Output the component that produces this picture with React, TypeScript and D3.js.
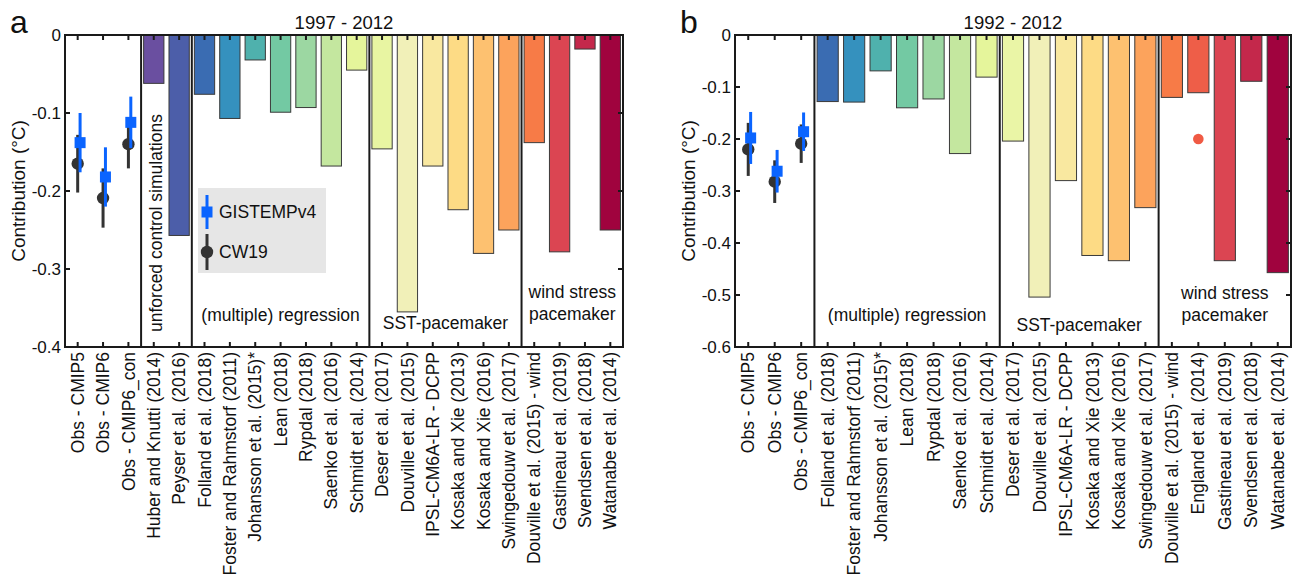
import * as d3 from 'd3';

// shared first three columns
const obsLabels = ['Obs - CMIP5', 'Obs - CMIP6', 'Obs - CMIP6_con'];

// panel a: 1997 - 2012
const aStudies = [
  'Huber and Knutti (2014)', 'Peyser et al. (2016)',
  'Folland et al. (2018)', 'Foster and Rahmstorf (2011)', 'Johansson et al. (2015)*', 'Lean (2018)',
  'Rypdal (2018)', 'Saenko et al. (2016)', 'Schmidt et al. (2014)',
  'Deser et al. (2017)', 'Douville et al. (2015)', 'IPSL-CM6A-LR - DCPP', 'Kosaka and Xie (2013)',
  'Kosaka and Xie (2016)', 'Swingedouw et al. (2017)',
  'Douville et al. (2015) - wind', 'Gastineau et al. (2019)', 'Svendsen et al. (2018)', 'Watanabe et al. (2014)',
];
const aValues = [
  -0.062, -0.257,
  -0.076, -0.107, -0.032, -0.099, -0.093, -0.168, -0.045,
  -0.146, -0.355, -0.168, -0.224, -0.280, -0.250,
  -0.138, -0.278, -0.018, -0.250,
];
const aColors = [
  '#6a4fa0', '#4c5ea9',
  '#3a6cb2', '#3591be', '#4fb1ad', '#73c9a3', '#9cd7a2', '#c4e79f', '#e5f59b',
  '#e8f5a2', '#f1f0b8', '#f9e8a0', '#fddb85', '#fdc170', '#fca35c',
  '#f77b47', '#db4552', '#c4284b', '#a0033e',
];
const aGistemp = [-0.138, -0.182, -0.112];
const aGistempErr = [0.038, 0.038, 0.033];
const aCw19 = [-0.165, -0.209, -0.140];
const aCw19Err = [0.037, 0.038, 0.031];
const aGroupSizes = [3, 2, 7, 6, 4];
const aGroupLabels = [[], ['unforced control simulations'], ['(multiple) regression'], ['SST-pacemaker'], ['wind stress', 'pacemaker']];
const aTicks = [0, -0.1, -0.2, -0.3, -0.4];

// panel b: 1992 - 2012
const bStudies = [
  'Folland et al. (2018)', 'Foster and Rahmstorf (2011)', 'Johansson et al. (2015)*', 'Lean (2018)',
  'Rypdal (2018)', 'Saenko et al. (2016)', 'Schmidt et al. (2014)',
  'Deser et al. (2017)', 'Douville et al. (2015)', 'IPSL-CM6A-LR - DCPP', 'Kosaka and Xie (2013)',
  'Kosaka and Xie (2016)', 'Swingedouw et al. (2017)',
  'Douville et al. (2015) - wind', 'England et al. (2014)', 'Gastineau et al. (2019)',
  'Svendsen et al. (2018)', 'Watanabe et al. (2014)',
];
const bValues = [
  -0.128, -0.129, -0.069, -0.140, -0.123, -0.228, -0.081,
  -0.204, -0.504, -0.280, -0.424, -0.434, -0.332,
  -0.120, -0.111, -0.434, -0.089, -0.457,
];
const bColors = [
  '#3a6cb2', '#3591be', '#4fb1ad', '#73c9a3', '#9cd7a2', '#c4e79f', '#e5f59b',
  '#eaf5a6', '#f1f0b8', '#f9e8a0', '#fddb85', '#fdc170', '#fca35c',
  '#f77b47', '#ee5e48', '#db4552', '#c4284b', '#a0033e',
];
const bGistemp = [-0.198, -0.262, -0.186];
const bGistempErr = [0.05, 0.041, 0.037];
const bCw19 = [-0.22, -0.282, -0.209];
const bCw19Err = [0.051, 0.041, 0.037];
// England et al. (2014) extra estimate
const bExtraLabel = 'England et al. (2014)';
const bExtraValue = -0.2;
const bGroupSizes = [3, 7, 6, 5];
const bGroupLabels = [[], ['(multiple) regression'], ['SST-pacemaker'], ['wind stress', 'pacemaker']];
const bTicks = [0, -0.1, -0.2, -0.3, -0.4, -0.5, -0.6];

const FONT = '"Liberation Sans", Arial, Helvetica, sans-serif';
const BLUE = '#0a64ff';
const DARK = '#333333';
const AXIS = '#1a1a1a';
const TOP = 35;
const BOTTOM = 347;

type GroupLayout = { y: number; rotate?: boolean; dx?: number };

type PanelProps = {
  letter: string;
  title: string;
  left: number;
  right: number;
  studies: string[];
  values: number[];
  colors: string[];
  ticks: number[];
  gistemp: number[];
  gistempErr: number[];
  cw19: number[];
  cw19Err: number[];
  groupSizes: number[];
  groupLabels: string[][];
  groupLayout: GroupLayout[];
  extra?: { label: string; value: number };
  legend?: boolean;
};

function Panel(p: PanelProps) {
  const labels = [...obsLabels, ...p.studies];
  const x = d3
    .scaleBand<number>()
    .domain(d3.range(labels.length))
    .range([p.left, p.right])
    .paddingInner(0.2)
    .paddingOuter(0.1);
  const y = d3
    .scaleLinear()
    .domain([0, p.ticks[p.ticks.length - 1]])
    .range([TOP, BOTTOM]);
  const bw = x.bandwidth();
  const cx = (i: number) => (x(i) as number) + bw / 2;
  const gap = (x.step() - bw) / 2;
  const cum = d3.cumsum(p.groupSizes);
  const bounds = [0, ...Array.from(cum)].map((c) => (c >= labels.length ? p.right : (x(c) as number) - gap));
  bounds[0] = p.left;

  const errMarker = (xc: number, v: number, e: number, kind: 'sq' | 'ci') => (
    <g>
      <line x1={xc} x2={xc} y1={y(v - e)} y2={y(v + e)} stroke={kind === 'sq' ? BLUE : DARK} strokeWidth={3} />
      {kind === 'sq' ? (
        <rect x={xc - 5.5} y={y(v) - 5.5} width={11} height={11} fill={BLUE} />
      ) : (
        <circle cx={xc} cy={y(v)} r={6.2} fill={DARK} />
      )}
    </g>
  );

  return (
    <g fontFamily={FONT}>
      <text x={p.left - 55} y={33} fontSize={32} fill="#111">{p.letter}</text>
      <text x={(p.left + p.right) / 2} y={29} fontSize={18.5} textAnchor="middle" fill="#111">{p.title}</text>

      {p.values.map((v, k) => {
        const i = k + obsLabels.length;
        return (
          <rect
            key={i}
            x={x(i)}
            y={y(0)}
            width={bw}
            height={y(v) - y(0)}
            fill={p.colors[k]}
            stroke="#3a3a3a"
            strokeWidth={1}
          />
        );
      })}

      {/* observational estimates, CW19 beneath GISTEMPv4 */}
      {p.cw19.map((v, i) => <g key={'c' + i}>{errMarker(cx(i), v, p.cw19Err[i], 'ci')}</g>)}
      {p.gistemp.map((v, i) => <g key={'g' + i}>{errMarker(cx(i) + 2.4, v, p.gistempErr[i], 'sq')}</g>)}

      {p.extra && (
        <circle cx={cx(labels.indexOf(p.extra.label))} cy={y(p.extra.value)} r={5.3} fill="#f05a44" />
      )}

      {/* frame */}
      <rect x={p.left} y={TOP} width={p.right - p.left} height={BOTTOM - TOP} fill="none" stroke={AXIS} strokeWidth={2} />
      {bounds.slice(1, -1).map((b, i) => (
        <line key={'s' + i} x1={b} x2={b} y1={TOP} y2={BOTTOM} stroke={AXIS} strokeWidth={2} />
      ))}

      {/* y ticks both sides */}
      {p.ticks.map((t) => (
        <g key={'t' + t}>
          <line x1={p.left} x2={p.left + 5} y1={y(t)} y2={y(t)} stroke={AXIS} strokeWidth={2} />
          <line x1={p.right - 5} x2={p.right} y1={y(t)} y2={y(t)} stroke={AXIS} strokeWidth={2} />
          <text x={p.left - 4} y={y(t)} dy="0.35em" fontSize={17} textAnchor="end" fill="#111">
            {t === 0 ? '0' : t.toFixed(1)}
          </text>
        </g>
      ))}
      <text
        transform={`translate(${p.left - 40},${(TOP + BOTTOM) / 2}) rotate(-90)`}
        fontSize={19}
        textAnchor="middle"
        fill="#111"
      >
        Contribution (°C)
      </text>

      {/* x ticks top and bottom, rotated labels */}
      {labels.map((l, i) => (
        <g key={'x' + i}>
          <line x1={cx(i)} x2={cx(i)} y1={BOTTOM} y2={BOTTOM - 5} stroke={AXIS} strokeWidth={2} />
          <line x1={cx(i)} x2={cx(i)} y1={TOP} y2={TOP + 5} stroke={AXIS} strokeWidth={2} />
          <text
            transform={`translate(${cx(i)},${BOTTOM + 5}) rotate(-90)`}
            dy="0.35em"
            fontSize={17.5}
            textAnchor="end"
            fill="#111"
          >
            {l}
          </text>
        </g>
      ))}

      {/* group labels */}
      {p.groupLabels.map((lines, g) => {
        const lay = p.groupLayout[g];
        if (!lines.length || !lay) return null;
        const mid = (bounds[g] + bounds[g + 1]) / 2 + (lay.dx || 0);
        if (lay.rotate) {
          return (
            <text key={'gl' + g} transform={`translate(${mid},${lay.y}) rotate(-90)`} dy="0.35em" fontSize={17.5} fill="#111">
              {lines[0]}
            </text>
          );
        }
        return (
          <text key={'gl' + g} fontSize={17.5} textAnchor="middle" fill="#111">
            {lines.map((ln, j) => (
              <tspan key={j} x={mid} y={lay.y - (lines.length - 1 - j) * 22}>{ln}</tspan>
            ))}
          </text>
        );
      })}

      {p.legend && (
        <g>
          <rect x={198} y={188} width={128} height={85} fill="#e6e6e6" />
          <line x1={207} x2={207} y1={195} y2={229} stroke={BLUE} strokeWidth={3} />
          <rect x={201.5} y={206.5} width={11} height={11} fill={BLUE} />
          <text x={219} y={212} dy="0.35em" fontSize={17.5} fill="#111">GISTEMPv4</text>
          <line x1={207} x2={207} y1={234} y2={270} stroke={DARK} strokeWidth={3} />
          <circle cx={207} cy={252} r={6.2} fill={DARK} />
          <text x={219} y={252} dy="0.35em" fontSize={17.5} fill="#111">CW19</text>
        </g>
      )}
    </g>
  );
}

export default function App() {
  return (
    <svg
      width={1293}
      height={575}
      style={{ position: 'absolute', left: 0, top: 0, background: '#fff' }}
    >
      <Panel
        letter="a"
        title="1997 - 2012"
        left={65}
        right={623}
        studies={aStudies}
        values={aValues}
        colors={aColors}
        ticks={aTicks}
        gistemp={aGistemp}
        gistempErr={aGistempErr}
        cw19={aCw19}
        cw19Err={aCw19Err}
        groupSizes={aGroupSizes}
        groupLabels={aGroupLabels}
        groupLayout={[{ y: 0 }, { y: 332, rotate: true, dx: -11 }, { y: 321 }, { y: 329 }, { y: 320 }]}
        legend
      />
      <Panel
        letter="b"
        title="1992 - 2012"
        left={735}
        right={1291}
        studies={bStudies}
        values={bValues}
        colors={bColors}
        ticks={bTicks}
        gistemp={bGistemp}
        gistempErr={bGistempErr}
        cw19={bCw19}
        cw19Err={bCw19Err}
        groupSizes={bGroupSizes}
        groupLabels={bGroupLabels}
        groupLayout={[{ y: 0 }, { y: 321 }, { y: 331 }, { y: 321 }]}
        extra={{ label: bExtraLabel, value: bExtraValue }}
      />
    </svg>
  );
}
